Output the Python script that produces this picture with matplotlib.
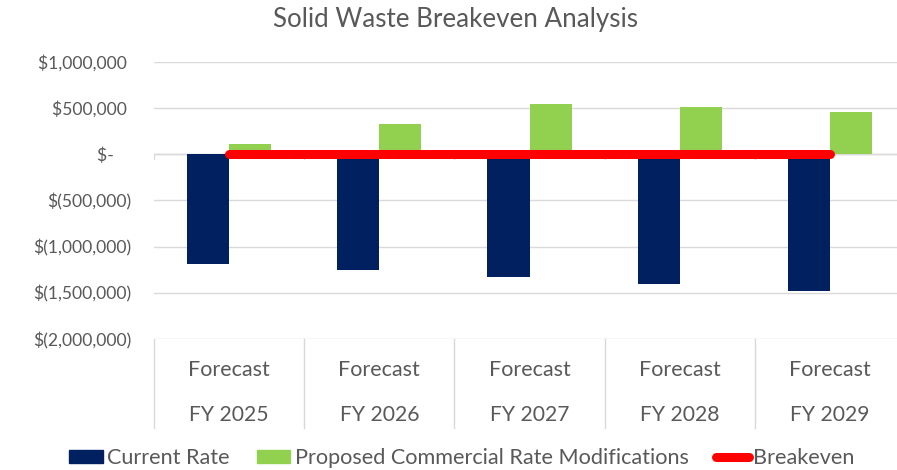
import matplotlib
matplotlib.use("Agg")
import matplotlib.pyplot as plt
from matplotlib.lines import Line2D
from matplotlib.patches import Patch

plt.rcParams['font.family'] = ['Lato', 'DejaVu Sans']

years = ["FY 2025", "FY 2026", "FY 2027", "FY 2028", "FY 2029"]
current_rate = [-1185000, -1255000, -1325000, -1405000, -1485000]
proposed = [112000, 330000, 550000, 517000, 460000]
breakeven = [0, 0, 0, 0, 0]

yticks = [1000000, 500000, 0, -500000, -1000000, -1500000, -2000000]
ylabels = ["$1,000,000 ", "$500,000 ", "$-    ", "$(500,000)", "$(1,000,000)",
           "$(1,500,000)", "$(2,000,000)"]

navy = "#002060"
green = "#92D050"
txt = "#595959"

fig = plt.figure(figsize=(8.97, 4.70), dpi=100)
ax = fig.add_axes([154/897, (470-339)/470, 751/897, 277/470])

x = list(range(len(years)))
w = 0.28
ax.bar([i - w/2 for i in x], current_rate, w, color=navy, zorder=2)
ax.bar([i + w/2 for i in x], proposed, w, color=green, zorder=2)
ax.plot(x, breakeven, color="#FF0000", lw=6.5, solid_capstyle="round", zorder=4)

ax.set_xlim(-0.5, 4.5)
ax.set_ylim(-2000000, 1000000)
ax.set_yticks(yticks)
ax.set_yticklabels(ylabels)
ax.tick_params(axis="y", length=0, pad=16, labelsize=12.6, labelcolor=txt)
ax.set_xticks([])
ax.grid(axis="y", color="#D9D9D9", lw=1)
ax.set_axisbelow(True)
for s in ax.spines.values():
    s.set_visible(False)

# horizontal axis crossing at zero with category tick marks
ax.axhline(0, color="#D9D9D9", lw=1, zorder=1)
for b in [-0.5, 0.5, 1.5, 2.5, 3.5, 4.5]:
    ax.plot([b, b], [0, -55000], color="#D9D9D9", lw=1, zorder=1)

# category labels below the plot, with dividers
trans = ax.get_xaxis_transform()
for b in [-0.5, 0.5, 1.5, 2.5, 3.5, 4.5]:
    ax.plot([b, b], [0, -89/277], color="#D9D9D9", lw=1, transform=trans, clip_on=False)
for i, yr in enumerate(years):
    ax.text(i, -31/277, "Forecast", transform=trans, ha="center", va="center",
            fontsize=15.5, color=txt)
    ax.text(i, -76/277, yr, transform=trans, ha="center", va="center",
            fontsize=15.2, color=txt)

fig.text(0.508, 1 - 20/470, "Solid Waste Breakeven Analysis", ha="center", va="center",
         fontsize=18.7, color=txt)

handles = [Patch(color=navy), Patch(color=green),
           Line2D([0], [0], color="#FF0000", lw=6.5, solid_capstyle="round")]
fig.legend(handles, ["Current Rate", "Proposed Commercial Rate Modifications", "Breakeven"],
           loc="center", bbox_to_anchor=(0.515, 12/470), ncol=3, frameon=False,
           fontsize=15.6, labelcolor=txt, handlelength=1.55, handleheight=0.56,
           handletextpad=0.2, columnspacing=1.25, borderpad=0)

fig.savefig("out.png", dpi=100)
